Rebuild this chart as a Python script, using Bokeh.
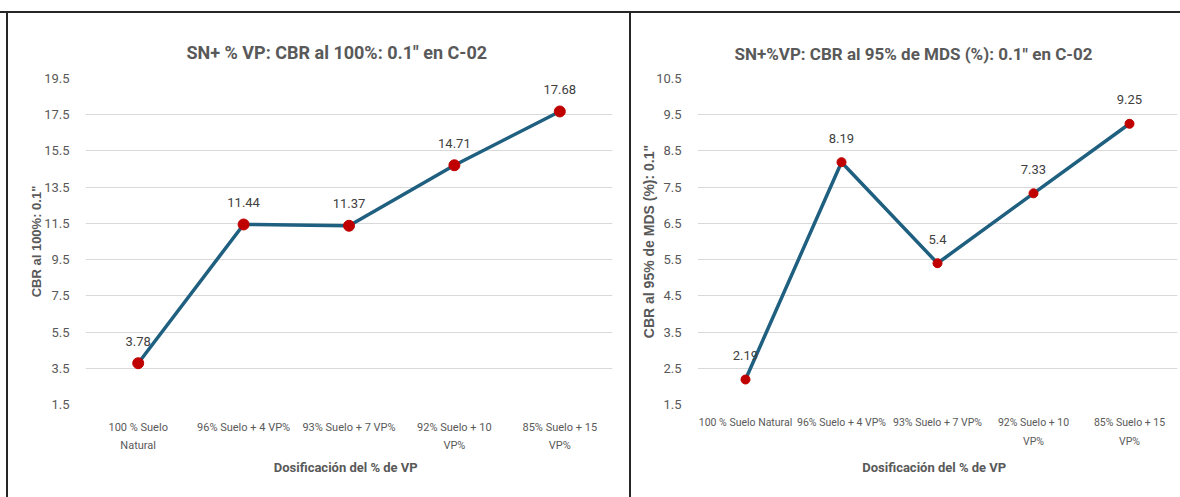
from bokeh.plotting import figure
from bokeh.models import (Range1d, FixedTicker, ColumnDataSource, LabelSet, LinearAxis)
from bokeh.layouts import row
from bokeh.core.properties import value
from bokeh.embed import file_html
from bokeh.resources import INLINE

# ---- data: left chart ----
title_left = 'SN+ % VP:   CBR al 100%: 0.1" en C-02'
ylabel_left = 'CBR al 100%: 0.1"'
cats_left = ["100 % Suelo", "96% Suelo + 4 VP%", "93% Suelo + 7 VP%",
             "92% Suelo + 10", "85% Suelo + 15"]
cats2_left = ["Natural", "", "", "VP%", "VP%"]   # second line of each category label
vals_left = [3.78, 11.44, 11.37, 14.71, 17.68]
labels_left = ["3.78", "11.44", "11.37", "14.71", "17.68"]
yticks_left = [1.5, 3.5, 5.5, 7.5, 9.5, 11.5, 13.5, 15.5, 17.5, 19.5]

# ---- data: right chart ----
title_right = 'SN+%VP: CBR al 95% de MDS (%): 0.1" en C-02'
ylabel_right = 'CBR al 95% de MDS (%): 0.1"'
cats_right = ["100 % Suelo Natural", "96% Suelo + 4 VP%", "93% Suelo + 7 VP%",
              "92% Suelo + 10", "85% Suelo + 15"]
cats2_right = ["", "", "", "VP%", "VP%"]
vals_right = [2.19, 8.19, 5.4, 7.33, 9.25]
labels_right = ["2.19", "8.19", "5.4", "7.33", "9.25"]
yticks_right = [1.5, 2.5, 3.5, 4.5, 5.5, 6.5, 7.5, 8.5, 9.5, 10.5]

xlabel = "Dosificación  del % de  VP"

FONT = "Roboto"
GREY = "#595959"
LINE = "#1f5f7f"
DOT = "#c00000"


def style_axis(ax):
    ax.axis_line_color = None
    ax.major_tick_line_color = None
    ax.minor_tick_line_color = None
    ax.major_label_text_color = GREY
    ax.major_label_text_font = FONT
    ax.axis_label_text_color = GREY
    ax.axis_label_text_font_style = "bold"


def panel(title, ylabel, cats, cats2, vals, labels, yticks, width, mb, tsize, toff, tstand,
          xls, ms, loff, ylab_size, ylab_stand, st1, st2, st3, bg):
    n = len(cats)
    pos = [i + 1 for i in range(n)]          # category slots
    p = figure(width=width, height=497, x_range=Range1d(0.5, n + 0.5),
               y_range=Range1d(yticks[0], yticks[-1]),
               output_backend="svg", toolbar_location=None, tools="",
               x_axis_location=None,
               min_border_left=mb[0], min_border_right=mb[1],
               min_border_top=mb[2], min_border_bottom=mb[3])
    p.border_fill_color = None
    p.outline_line_color = None
    p.styles = {"background": bg}

    p.title.text = title
    p.title.align = "left"
    p.title.offset = toff
    p.title.text_font = FONT
    p.title.text_font_size = tsize
    p.title.text_font_style = "bold"
    p.title.text_color = GREY
    p.title.standoff = tstand

    src = ColumnDataSource(dict(x=pos, y=vals, t=labels))
    p.line("x", "y", source=src, line_color=LINE, line_width=3.5)
    p.scatter("x", "y", source=src, size=ms, fill_color=DOT, line_color=DOT)
    p.add_layout(LabelSet(x="x", y="y", text="t", source=src, y_offset=loff,
                          text_align="center", text_baseline="middle",
                          text_font=value(FONT), text_font_size="13px",
                          text_color="#404040"))

    # y axis
    p.yaxis.ticker = FixedTicker(ticks=yticks)
    style_axis(p.yaxis[0])
    p.yaxis.major_label_text_font_size = "13px"
    p.yaxis.major_label_standoff = 10
    p.yaxis.axis_label = ylabel
    p.yaxis.axis_label_text_font = "Liberation Sans"
    p.yaxis.axis_label_text_font_size = ylab_size
    p.yaxis.axis_label_standoff = ylab_stand

    # x axis, first line of the category labels
    ax1 = LinearAxis(ticker=FixedTicker(ticks=pos),
                     major_label_overrides={x: s for x, s in zip(pos, cats)})
    style_axis(ax1)
    ax1.major_label_text_font_size = xls
    ax1.major_label_standoff = st1
    p.add_layout(ax1, "below")

    # second line of the category labels + axis title
    pos2 = [x for x, s in zip(pos, cats2) if s]
    ax2 = LinearAxis(ticker=FixedTicker(ticks=pos2),
                     major_label_overrides={x: s for x, s in zip(pos, cats2) if s})
    style_axis(ax2)
    ax2.major_label_text_font_size = xls
    ax2.major_label_standoff = st2
    ax2.axis_label = xlabel
    ax2.axis_label_text_font = FONT
    ax2.axis_label_text_font_size = "13px"
    ax2.axis_label_standoff = st3
    p.add_layout(ax2, "below")

    p.xgrid.grid_line_color = None
    p.ygrid.grid_line_color = "#d9d9d9"
    p.ygrid.grid_line_width = 1
    return p


bg_left = ("linear-gradient(#262626,#262626) left 0 top 11px / 100% 2px no-repeat, "
           "linear-gradient(#262626,#262626) left 6px top 11px / 2px 100% no-repeat")
bg_right = ("linear-gradient(#262626,#262626) left 0 top 11px / 100% 2px no-repeat, "
            "linear-gradient(#262626,#262626) left 0 top 11px / 2px 100% no-repeat")

# frames: left x 85..612, right x 697..1177 (page coords), y 78..404
left = panel(title_left, ylabel_left, cats_left, cats2_left, vals_left, labels_left,
             yticks_left, 629, (85, 17, 78, 93), "18px", 101, 31,
             "11px", 11, 22, "13px", -3, 10, -4, 5, bg_left)
right = panel(title_right, ylabel_right, cats_right, cats2_right, vals_right, labels_right,
              yticks_right, 551, (68, 3, 78, 93), "17px", 37, 29,
              "10.5px", 9, 24, "14px", -4, 5, -3, 9, bg_right)

layout = row(left, right)
open("out.html", "w").write(file_html(layout, INLINE))
